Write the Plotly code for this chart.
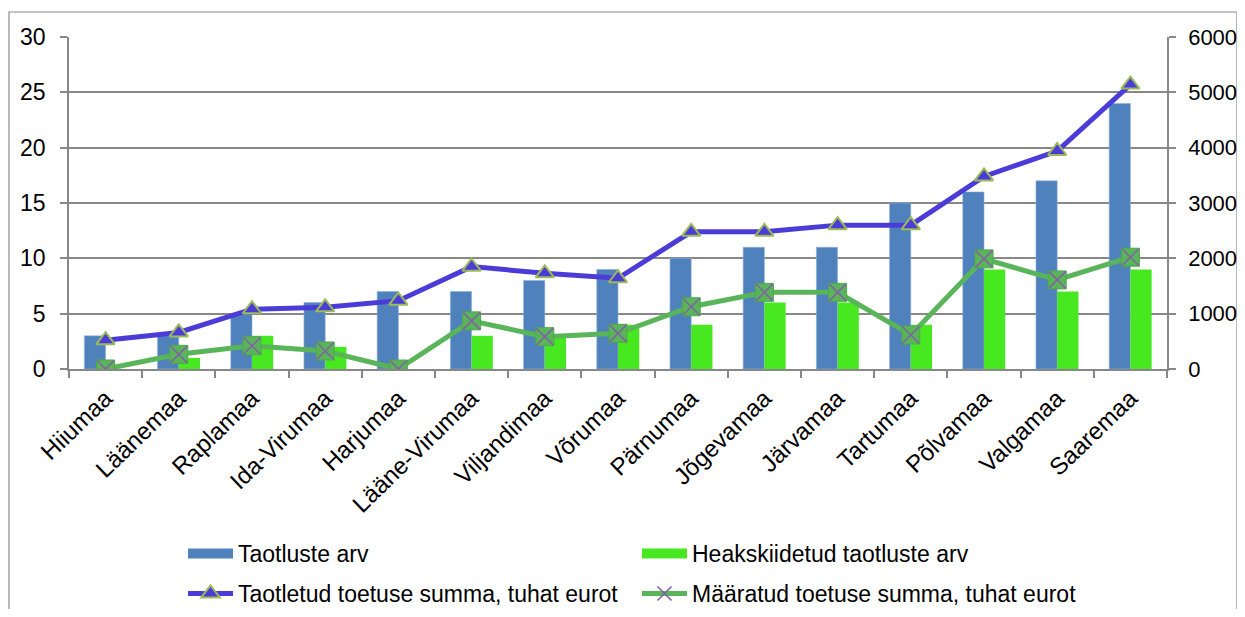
import plotly.graph_objects as go

categories = ["Hiiumaa", "Läänemaa", "Raplamaa", "Ida-Virumaa", "Harjumaa", "Lääne-Virumaa",
              "Viljandimaa", "Võrumaa", "Pärnumaa", "Jõgevamaa", "Järvamaa", "Tartumaa",
              "Põlvamaa", "Valgamaa", "Saaremaa"]
taotluste_arv = [3, 3, 5, 6, 7, 7, 8, 9, 10, 11, 11, 15, 16, 17, 24]
heakskiidetud = [0, 1, 3, 2, 0, 3, 3, 4, 4, 6, 6, 4, 9, 7, 9]
taotletud_summa = [520, 660, 1080, 1115, 1235, 1850, 1730, 1640, 2480, 2480, 2600, 2600, 3480, 3940, 5140]
maaratud_summa = [0, 265, 420, 325, 0, 870, 585, 645, 1125, 1385, 1385, 615, 1990, 1610, 2020]

left_ticks = [0, 5, 10, 15, 20, 25, 30]
right_ticks = [0, 1000, 2000, 3000, 4000, 5000, 6000]

# page has an 8px body margin; size the figure so it fits the window without scrolling
OFF = 8
W, H = 1245 - 2 * OFF, 617 - 2 * OFF
ML, MR, MT, MB = 69 - OFF, W - (1167 - OFF), 37 - OFF, H - (369 - OFF)
PW, PH = W - ML - MR, H - MT - MB
FONT = "Liberation Sans, Arial, sans-serif"
GRID = "#888888"
BLUE_BAR = "#4F81BD"
GREEN_BAR = "#48E820"
BLUE_LINE = "#4B3CD8"
GREEN_LINE = "#5AB55A"

fig = go.Figure()
fig.add_trace(go.Bar(x=categories, y=taotluste_arv, name="Taotluste arv", showlegend=False,
                     marker=dict(color=BLUE_BAR, line=dict(width=0.6, color="#8EB0DA"))))
fig.add_trace(go.Bar(x=categories, y=heakskiidetud, name="Heakskiidetud taotluste arv",
                     showlegend=False, marker=dict(color=GREEN_BAR, line=dict(width=0))))
fig.add_trace(go.Scatter(x=categories, y=taotletud_summa, yaxis="y2", mode="lines+markers",
                         name="Taotletud toetuse summa, tuhat eurot", legend="legend2",
                         line=dict(color=BLUE_LINE, width=5),
                         marker=dict(symbol="triangle-up", size=16, color=BLUE_LINE,
                                     line=dict(color="#9BBB59", width=2))))
fig.add_trace(go.Scatter(x=categories, y=maaratud_summa, yaxis="y2", mode="lines+markers",
                         showlegend=False, name="Määratud toetuse summa, tuhat eurot",
                         line=dict(color=GREEN_LINE, width=5),
                         marker=dict(symbol="square", size=18, color=GREEN_LINE,
                                     line=dict(color="#4EA84E", width=1))))
fig.add_trace(go.Scatter(x=categories, y=maaratud_summa, yaxis="y2", mode="markers",
                         showlegend=False, hoverinfo="skip",
                         marker=dict(symbol="x-thin", size=17, color="#8064A2",
                                     line=dict(color="#8064A2", width=1.6))))

# legend-only entries (no data drawn)
fig.add_trace(go.Scatter(x=[categories[0]], y=[None], mode="lines", name="Taotluste arv",
                         legend="legend", line=dict(color=BLUE_BAR, width=14)))
fig.add_trace(go.Scatter(x=[categories[0]], y=[None], mode="lines",
                         name="Heakskiidetud taotluste arv",
                         legend="legend", line=dict(color=GREEN_BAR, width=14)))
fig.add_trace(go.Scatter(x=[categories[0]], y=[None], yaxis="y2", mode="lines+markers",
                         name="Määratud toetuse summa, tuhat eurot", legend="legend2",
                         line=dict(color=GREEN_LINE, width=5),
                         marker=dict(symbol="x-thin", size=14, color="#8064A2",
                                     line=dict(color="#8064A2", width=1.6))))


def px_x(p):
    return (p - OFF - ML) / PW


def px_y(p):
    return (H + OFF - MB - p) / PH


fig.add_shape(type="rect", xref="paper", yref="paper",
              x0=px_x(9), x1=px_x(1237), y0=px_y(660), y1=px_y(12),
              line=dict(color="#8C8C8C", width=1.2), layer="below")

legend_common = dict(orientation="h", xref="container", yref="container",
                     xanchor="left", yanchor="top", entrywidth=394, itemwidth=45,
                     font=dict(size=23), traceorder="normal", bgcolor="rgba(0,0,0,0)")

fig.update_layout(
    width=W, height=H,
    margin=dict(l=ML, r=MR, t=MT, b=MB, autoexpand=False),
    paper_bgcolor="white", plot_bgcolor="white",
    font=dict(family=FONT, size=23, color="black"),
    barmode="group", bargap=0.42, bargroupgap=0,
    xaxis=dict(type="category", range=[-0.5, len(categories) - 0.5], tickangle=-44,
               showline=True, linecolor=GRID, linewidth=1.5,
               ticks="outside", tickson="boundaries", ticklen=7, tickcolor=GRID, tickwidth=1.5,
               showgrid=False, tickfont=dict(size=24), ticklabelstandoff=4),
    yaxis=dict(range=[0, 30], tickvals=left_ticks, showline=True, linecolor=GRID, linewidth=1.5,
               ticks="outside", ticklen=7, tickcolor=GRID, tickwidth=1.5,
               showgrid=True, gridcolor=GRID, gridwidth=1.5, zeroline=False,
               ticklabelstandoff=10),
    yaxis2=dict(range=[0, 6000], tickvals=right_ticks, overlaying="y", side="right",
                showline=True, linecolor=GRID, linewidth=1.5,
                ticks="outside", ticklen=7, tickcolor=GRID, tickwidth=1.5,
                showgrid=False, zeroline=False, ticklabelstandoff=8,
                tickfont=dict(size=22)),
    legend=dict(x=175 / W, y=1 - (532 - OFF) / H, **legend_common),
    legend2=dict(x=175 / W, y=1 - (572 - OFF) / H, **legend_common),
    showlegend=True,
)

fig.write_html("out.html")
